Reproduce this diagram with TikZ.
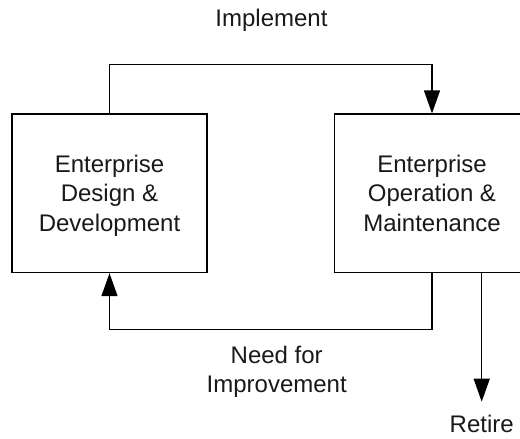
\documentclass[tikz,border=0pt]{standalone}
\usepackage{fontspec}
\setmainfont{Liberation Sans}
\usetikzlibrary{arrows.meta}
\begin{document}
\begin{tikzpicture}[x=1pt,y=-1pt,
  stagebox/.style={draw,line width=1.3pt,minimum width=195pt,minimum height=158.5pt,
    align=center,inner sep=0pt,text depth=-3pt,text=black!90,
    font=\fontsize{24}{29.5}\selectfont},
  flow/.style={line width=1.3pt,-{Triangle[length=23pt,width=16pt]}},
  label/.style={align=center,inner sep=0pt,text=black!90,
    font=\fontsize{24}{29.5}\selectfont}]
\useasboundingbox (0,0) rectangle (520,439);
\clip (0,0) rectangle (520,439);
% the two life-cycle stages
\node[stagebox] (design) at (109.5,193.3) {Enterprise\\Design \&\\Development};
\node[stagebox] (oper) at (432,193.3) {Enterprise\\Operation \&\\Maintenance};
% loop corners and free end
\coordinate (topy) at (0,64.7);
\coordinate (boty) at (0,329.3);
\coordinate (retireend) at (481.7,401.7);
% connectors
\draw[flow] (design.north) -- (design.north |- topy) -- (oper.north |- topy) -- (oper.north);
\draw[flow] (oper.south) -- (oper.south |- boty) -- (design.south |- boty) -- (design.south);
\draw[flow] (retireend |- oper.south) -- (retireend);
% labels
\node[label,anchor=base] (impl) at (271.5,26) {Implement};
\node[label] (need) at (276.7,371.8) {Need for\\Improvement};
\node[label,anchor=base] (retire) at (481.7,432.3) {Retire};
\end{tikzpicture}
\end{document}
